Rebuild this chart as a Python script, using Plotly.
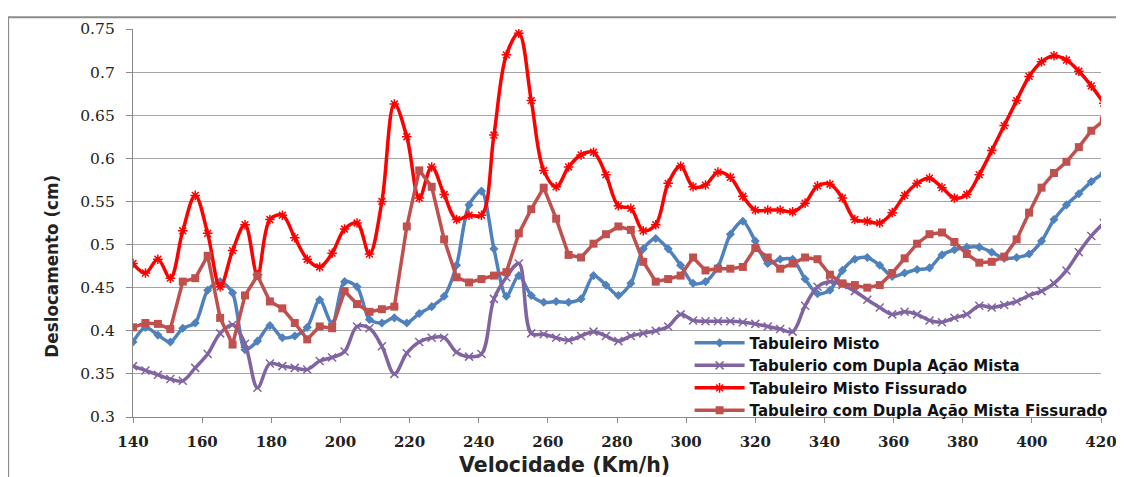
import plotly.graph_objects as go

velocidade = [140.0, 143.6, 147.2, 150.8, 154.4, 158.0, 161.6, 165.2, 168.8, 172.4,
              176.0, 179.6, 183.2, 186.8, 190.4, 194.0, 197.6, 201.2, 204.8, 208.4,
              212.0, 215.6, 219.2, 222.8, 226.4, 230.0, 233.6, 237.2, 240.8, 244.4,
              248.0, 251.6, 255.2, 258.8, 262.4, 266.0, 269.6, 273.2, 276.8, 280.4,
              284.0, 287.6, 291.2, 294.8, 298.4, 302.0, 305.6, 309.2, 312.8, 316.4,
              320.0, 323.6, 327.2, 330.8, 334.4, 338.0, 341.6, 345.2, 348.8, 352.4,
              356.0, 359.6, 363.2, 366.8, 370.4, 374.0, 377.6, 381.2, 384.8, 388.4,
              392.0, 395.6, 399.2, 402.8, 406.4, 410.0, 413.6, 417.2, 420.8]

misto = [0.387, 0.404, 0.395, 0.387, 0.403, 0.409, 0.447, 0.457, 0.444, 0.378,
         0.388, 0.406, 0.392, 0.394, 0.404, 0.436, 0.408, 0.457, 0.451, 0.413,
         0.409, 0.415, 0.409, 0.420, 0.428, 0.440, 0.476, 0.546, 0.562, 0.495,
         0.440, 0.464, 0.441, 0.433, 0.434, 0.433, 0.437, 0.464, 0.453, 0.441,
         0.455, 0.495, 0.507, 0.495, 0.476, 0.455, 0.457, 0.474, 0.512, 0.527,
         0.504, 0.478, 0.483, 0.483, 0.460, 0.443, 0.447, 0.470, 0.483, 0.485,
         0.476, 0.463, 0.467, 0.471, 0.473, 0.488, 0.494, 0.497, 0.497, 0.491,
         0.484, 0.485, 0.489, 0.504, 0.529, 0.546, 0.559, 0.573, 0.583]

dupla = [0.359, 0.354, 0.349, 0.344, 0.342, 0.357, 0.373, 0.397, 0.407, 0.385,
         0.334, 0.362, 0.359, 0.357, 0.355, 0.365, 0.369, 0.376, 0.405, 0.403,
         0.382, 0.350, 0.374, 0.387, 0.392, 0.392, 0.375, 0.370, 0.373, 0.437,
         0.462, 0.478, 0.397, 0.396, 0.392, 0.389, 0.394, 0.399, 0.394, 0.388,
         0.394, 0.397, 0.400, 0.405, 0.419, 0.412, 0.411, 0.411, 0.411, 0.410,
         0.408, 0.405, 0.402, 0.399, 0.429, 0.451, 0.457, 0.453, 0.446, 0.436,
         0.427, 0.419, 0.422, 0.419, 0.412, 0.410, 0.415, 0.419, 0.429, 0.427,
         0.430, 0.434, 0.441, 0.446, 0.455, 0.470, 0.491, 0.510, 0.525]

misto_fiss = [0.478, 0.467, 0.483, 0.461, 0.516, 0.557, 0.513, 0.451, 0.493, 0.523,
              0.465, 0.529, 0.534, 0.508, 0.483, 0.474, 0.490, 0.518, 0.525, 0.489,
              0.550, 0.663, 0.625, 0.554, 0.590, 0.558, 0.529, 0.534, 0.534, 0.627,
              0.720, 0.745, 0.667, 0.586, 0.567, 0.590, 0.604, 0.607, 0.581, 0.545,
              0.542, 0.516, 0.523, 0.571, 0.591, 0.567, 0.569, 0.584, 0.578, 0.556,
              0.540, 0.540, 0.540, 0.538, 0.548, 0.568, 0.570, 0.554, 0.529, 0.527,
              0.525, 0.537, 0.557, 0.571, 0.577, 0.566, 0.554, 0.558, 0.581, 0.609,
              0.638, 0.667, 0.695, 0.712, 0.719, 0.714, 0.701, 0.684, 0.664]

dupla_fiss = [0.404, 0.409, 0.408, 0.402, 0.457, 0.461, 0.487, 0.415, 0.384, 0.441,
              0.464, 0.434, 0.426, 0.409, 0.390, 0.405, 0.403, 0.446, 0.431, 0.422,
              0.425, 0.428, 0.521, 0.586, 0.567, 0.506, 0.462, 0.456, 0.460, 0.464,
              0.468, 0.513, 0.541, 0.566, 0.530, 0.488, 0.485, 0.501, 0.512, 0.521,
              0.517, 0.480, 0.457, 0.460, 0.464, 0.485, 0.470, 0.472, 0.472, 0.474,
              0.496, 0.485, 0.472, 0.478, 0.485, 0.483, 0.465, 0.455, 0.453, 0.450,
              0.453, 0.467, 0.484, 0.501, 0.512, 0.514, 0.503, 0.489, 0.479, 0.480,
              0.486, 0.506, 0.537, 0.566, 0.583, 0.596, 0.613, 0.632, 0.644]

nomes = ["Tabuleiro Misto",
         "Tabulerio com Dupla Ação Mista",
         "Tabuleiro Misto Fissurado",
         "Tabuleiro com Dupla Ação Mista Fissurado"]

titulo_x = "Velocidade (Km/h)"
titulo_y = "Deslocamento (cm)"

x_ticks = [140, 160, 180, 200, 220, 240, 260, 280, 300, 320, 340, 360, 380, 400, 420]
y_ticks = [0.3, 0.35, 0.4, 0.45, 0.5, 0.55, 0.6, 0.65, 0.7, 0.75]

fig = go.Figure()

fig.add_trace(go.Scatter(
    x=velocidade, y=misto, name=nomes[0], mode="lines+markers",
    line=dict(color="#4F81BD", width=3.5, shape="spline", smoothing=0.8),
    marker=dict(symbol="diamond", size=7, color="#4F81BD")))

fig.add_trace(go.Scatter(
    x=velocidade, y=dupla, name=nomes[1], mode="lines+markers",
    line=dict(color="#8064A2", width=3.5, shape="spline", smoothing=1.0),
    marker=dict(symbol="x-thin-open", size=8, color="#8064A2",
                line=dict(color="#8064A2", width=1.5))))

fig.add_trace(go.Scatter(
    x=velocidade, y=misto_fiss, name=nomes[2], mode="lines+markers",
    line=dict(color="#FF0000", width=3.5, shape="spline", smoothing=1.0),
    marker=dict(symbol="asterisk-open", size=8, color="#FF0000",
                line=dict(color="#FF0000", width=1.5))))

fig.add_trace(go.Scatter(
    x=velocidade, y=dupla_fiss, name=nomes[3], mode="lines+markers",
    line=dict(color="#C0504D", width=3.5),
    marker=dict(symbol="square", size=8, color="#C0504D")))

fig.update_layout(
    width=1124, height=477,
    margin=dict(l=125, r=31, t=16, b=68),
    paper_bgcolor="white", plot_bgcolor="white",
    showlegend=True,
    legend=dict(x=0.575, y=0.233, xanchor="left", yanchor="top",
                bgcolor="rgba(0,0,0,0)", borderwidth=0, itemwidth=50,
                tracegroupgap=0,
                font=dict(family="DejaVu Sans", size=15, color="#111", weight="bold")),
    shapes=[
        dict(type="rect", xref="paper", yref="paper",
             x0=-0.129, x1=1.06, y0=-0.2, y1=1.0305,
             line=dict(color="#8C8C8C", width=2), layer="below"),
        dict(type="rect", xref="paper", yref="paper",
             x0=0.5475, x1=1.0, y0=0.095, y1=0.13,
             fillcolor="white", line=dict(width=0), layer="between"),
    ],
    annotations=[
        dict(text=titulo_y, xref="paper", yref="paper", x=-0.0837, y=0.39,
             xanchor="center", yanchor="middle", textangle=-90, showarrow=False,
             font=dict(family="DejaVu Sans", size=16.8, color="#222", weight="bold")),
        dict(text=titulo_x, xref="paper", yref="paper", x=0.446, y=-0.1247,
             xanchor="center", yanchor="middle", showarrow=False,
             font=dict(family="DejaVu Sans", size=20.5, color="#222", weight="bold")),
    ],
)

fig.update_xaxes(
    range=[140, 420], tickvals=x_ticks, ticktext=[str(v) for v in x_ticks],
    showgrid=False, zeroline=False,
    showline=True, linecolor="#888888", linewidth=1.3,
    ticks="outside", ticklen=5, tickcolor="#888888",
    ticklabelstandoff=6,
    tickfont=dict(family="DejaVu Serif", size=15, color="#222", weight="bold"))

fig.update_yaxes(
    range=[0.3, 0.75], tickvals=y_ticks, ticktext=[f"{v:g}" for v in y_ticks],
    showgrid=True, gridcolor="#A6A6A6", gridwidth=1.4, zeroline=False,
    showline=True, linecolor="#888888", linewidth=1.3,
    ticks="outside", ticklen=6, tickcolor="#888888",
    ticklabelstandoff=8,
    tickfont=dict(family="DejaVu Serif", size=15.5, color="#222"))

fig.write_html("out.html")
